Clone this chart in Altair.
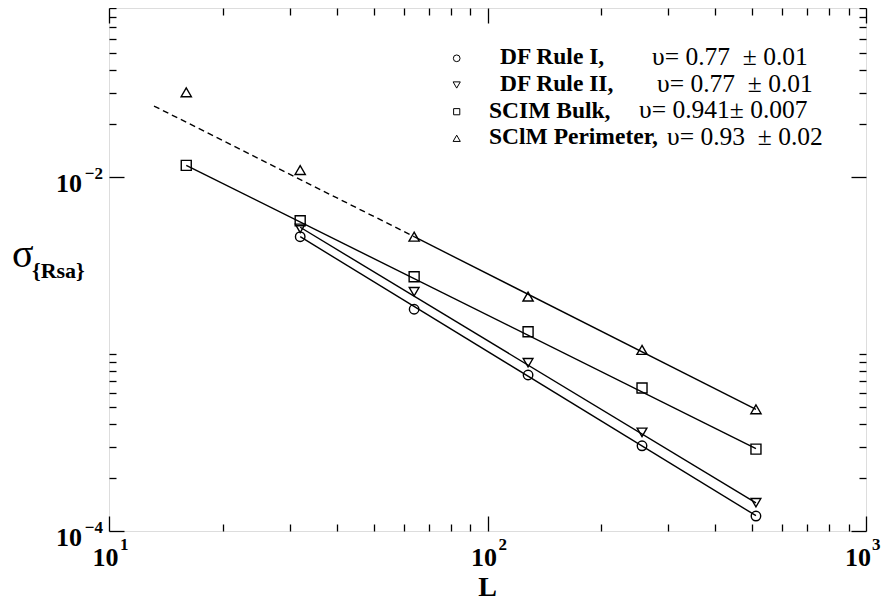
import altair as alt
import pandas as pd

# ---------------- data ----------------
L = [16, 32, 64, 128, 256, 512]
rule1 = [None, 0.0046, 0.00179, 0.000761, 0.000303, 0.0001215]
rule2 = [None, 0.00513, 0.002249, 0.000893, 0.000361, 0.0001445]
bulk = [0.01164, 0.00566, 0.002734, 0.001337, 0.000643, 0.00029]
perim = [0.03011, 0.01095, 0.0046, 0.00211, 0.001054, 0.000487]

series_keys = ["Rule I", "Rule II", "Bulk", "Perimeter"]
series_names = ["DF Rule I,", "DF Rule II,", "SCIM Bulk,", "SClM Perimeter,"]
series_nu = ["υ= 0.77\u00a0\u00a0± 0.01", "υ= 0.77\u00a0\u00a0± 0.01",
             "υ= 0.941± 0.007", "υ= 0.93\u00a0\u00a0± 0.02"]
shapes = ["circle", "triangle-down", "square", "triangle-up"]
sizes = [90, 105, 70, 105]

# fitted power-law lines (end points)
fit_series = ["Rule I", "Rule I", "Rule II", "Rule II", "Bulk", "Bulk", "Perimeter", "Perimeter"]
fit_L = [32, 512, 32, 512, 16, 512, 64, 512]
fit_s = [0.0046, 0.000122, 0.0052, 0.000144, 0.01164, 0.000292, 0.0046, 0.000487]
dash_L = [13.15, 64]
dash_s = [0.02518, 0.0046]

x_ticks = [10, 20, 30, 40, 50, 60, 70, 80, 90, 100,
           200, 300, 400, 500, 600, 700, 800, 900, 1000]
y_ticks = [0.0001, 0.0002, 0.0003, 0.0004, 0.0005, 0.0006, 0.0007, 0.0008, 0.0009, 0.001,
           0.01, 0.02, 0.03, 0.04, 0.05, 0.06, 0.07, 0.08, 0.09]
x_major = [10, 100, 1000]
x_exp = ["1", "2", "3"]
y_major = [0.0001, 0.01]
y_exp = ["\u22124", "\u22122"]

# ---------------- layout ----------------
W, H = 757, 523
FONT = "Liberation Serif"

xscale = alt.Scale(type="log", domain=[10, 1000], nice=False)
yscale = alt.Scale(type="log", domain=[0.0001, 0.09013], nice=False)

x_cond = {"condition": {"test": "datum.value == 10 || datum.value == 100 || datum.value == 1000",
                        "value": 15}, "value": 7}
y_cond = {"condition": {"test": "datum.value == 0.01 || datum.value == 0.0001",
                        "value": 15}, "value": 7}


def tick_axis(orient, offset, values, cond):
    return alt.Axis(orient=orient, offset=offset, values=values, labels=False,
                    domain=False, grid=False, title=None, tickColor="black",
                    tickWidth=1.3, tickSize=cond)


rows = []
for k, vals in zip(series_keys, [rule1, rule2, bulk, perim]):
    for l, v in zip(L, vals):
        if v is not None:
            rows.append({"series": k, "L": l, "s": v})
pts = pd.DataFrame(rows)
fits = pd.DataFrame({"series": fit_series, "L": fit_L, "s": fit_s})
dash = pd.DataFrame({"L": dash_L, "s": dash_s})

lines = alt.Chart(fits).mark_line(color="black", strokeWidth=1.4).encode(
    x=alt.X("L:Q", scale=xscale, axis=tick_axis("top", -H, x_ticks, x_cond)),
    y=alt.Y("s:Q", scale=yscale, axis=tick_axis("right", -W, y_ticks, y_cond)),
    detail="series:N",
)

dashed = alt.Chart(dash).mark_line(color="black", strokeWidth=1.4, strokeDash=[6, 4]).encode(
    x=alt.X("L:Q", scale=xscale, axis=None),
    y=alt.Y("s:Q", scale=yscale, axis=None),
)

points = alt.Chart(pts).mark_point(filled=False, color="black", strokeWidth=1.4, opacity=1).encode(
    x=alt.X("L:Q", scale=xscale, axis=tick_axis("bottom", -H, x_ticks, x_cond)),
    y=alt.Y("s:Q", scale=yscale, axis=tick_axis("left", -W, y_ticks, y_cond)),
    shape=alt.Shape("series:N", scale=alt.Scale(domain=series_keys, range=shapes), legend=None),
    size=alt.Size("series:N", scale=alt.Scale(domain=series_keys, range=sizes), legend=None),
)

# tick labels (the last one is nudged left to stay inside the page)
xl = pd.DataFrame({"v": x_major, "b": ["10"] * 3, "e": x_exp})
x_layers = []
for flt, bdx, edx in [("datum.v < 1000", -3.5, 11), ("datum.v >= 1000", -8, 6)]:
    x_layers.append(alt.Chart(xl).transform_filter(flt).mark_text(
        align="center", baseline="alphabetic", dx=bdx, font=FONT,
        fontSize=26, fontWeight="bold", color="black").encode(
        x=alt.X("v:Q", scale=xscale, axis=None), y=alt.value(H + 35), text="b:N"))
    x_layers.append(alt.Chart(xl).transform_filter(flt).mark_text(
        align="left", baseline="alphabetic", dx=edx, font=FONT,
        fontSize=17, fontWeight="bold", color="black").encode(
        x=alt.X("v:Q", scale=xscale, axis=None), y=alt.value(H + 19), text="e:N"))

yl = pd.DataFrame({"v": y_major, "b": ["10"] * 2, "e": y_exp})
ybase = alt.Chart(yl).mark_text(align="right", baseline="alphabetic", dy=15, font=FONT,
                                fontSize=26, fontWeight="bold", color="black").encode(
    y=alt.Y("v:Q", scale=yscale, axis=None), x=alt.value(-27), text="b:N")
yexp = alt.Chart(yl).mark_text(align="right", baseline="alphabetic", dy=2, font=FONT,
                               fontSize=17, fontWeight="bold", color="black").encode(
    y=alt.Y("v:Q", scale=yscale, axis=None), x=alt.value(-6), text="e:N")

# axis titles
one = pd.DataFrame({"t": ["L"]})
xtitle = alt.Chart(one).mark_text(align="center", baseline="alphabetic", font=FONT,
                                  fontSize=28, fontWeight="bold", color="black").encode(
    x=alt.value(W / 2), y=alt.value(H + 65), text="t:N")
sig = alt.Chart(pd.DataFrame({"t": ["σ"]})).mark_text(
    align="left", baseline="alphabetic", font=FONT, fontSize=40, color="black").encode(
    x=alt.value(-97), y=alt.value(259), text="t:N")
sub = alt.Chart(pd.DataFrame({"t": ["{Rsa}"]})).mark_text(
    align="left", baseline="alphabetic", font=FONT, fontSize=22, fontWeight="bold",
    color="black").encode(x=alt.value(-77), y=alt.value(270), text="t:N")

# legend
leg_y = [50.3, 77, 103.7, 130.3]
name_x = [391, 391, 380, 380]
nu_x = [543, 548, 530, 558]
leg_sizes = [45, 52, 38, 52]
legend_layers = []
for i in range(4):
    d = pd.DataFrame({"n": [series_names[i]], "u": [series_nu[i]]})
    legend_layers.append(
        alt.Chart(d).mark_point(shape=shapes[i], size=leg_sizes[i], filled=False, color="black",
                                strokeWidth=1.0, opacity=1).encode(
            x=alt.value(347.7), y=alt.value(leg_y[i])))
    legend_layers.append(
        alt.Chart(d).mark_text(align="left", baseline="alphabetic", font=FONT, fontSize=23.5,
                               fontWeight="bold", color="black").encode(
            x=alt.value(name_x[i]), y=alt.value(leg_y[i] + 6), text="n:N"))
    legend_layers.append(
        alt.Chart(d).mark_text(align="left", baseline="alphabetic", font=FONT, fontSize=25.5,
                               color="black").encode(
            x=alt.value(nu_x[i]), y=alt.value(leg_y[i] + 6.5), text="u:N"))

chart = alt.layer(
    lines, dashed, points, *x_layers, ybase, yexp, xtitle, sig, sub, *legend_layers
).resolve_axis(x="independent", y="independent").properties(
    width=W, height=H,
    autosize=alt.AutoSizeParams(type="none"),
    padding={"left": 101, "top": 0, "right": 15, "bottom": 70},
).configure_view(stroke="black", strokeWidth=2).configure(font=FONT)

chart.save("out.html", embed_options={"renderer": "svg", "actions": False})
